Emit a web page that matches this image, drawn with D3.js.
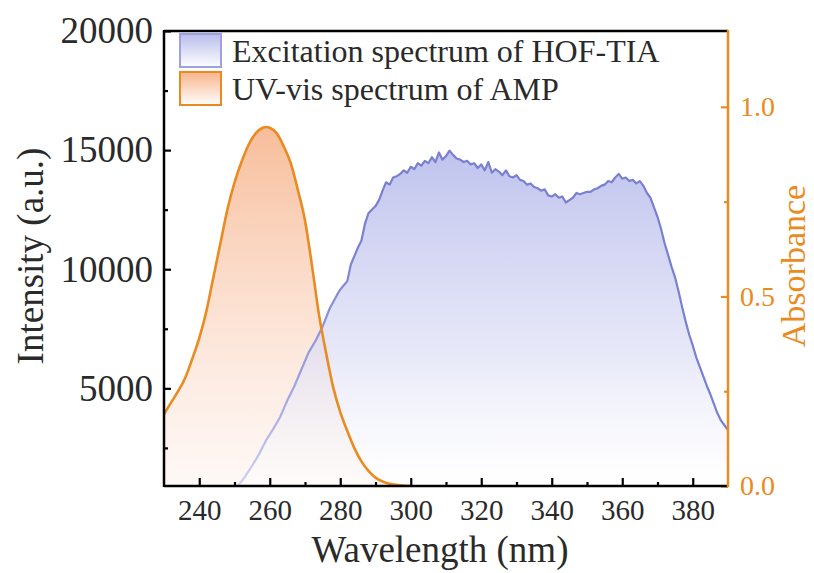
<!DOCTYPE html>
<html>
<head>
<meta charset="utf-8">
<script src="https://cdn.jsdelivr.net/npm/d3@7"></script>
<style>
 body { margin:0; background:#fff; }
 svg { display:block; }
 svg text { font-family:"Liberation Serif", "Times New Roman", Times, Tinos, "Nimbus Roman", "DejaVu Serif", serif; }
</style>
</head>
<body>
<svg id="chart" width="814" height="573"></svg>
<script>
// excitation spectrum of HOF-TIA  [wavelength nm, intensity a.u.]
var excitation = [
 [251,900],[253,1300],[255,1750],[257,2250],[259,2830],[261,3300],[263,3810],[265,4500],
 [267,5100],[269,5800],[271,6500],[273,7000],[275,7600],[277,8350],[279,8900],[280,9150],
 [282,9500],[283,10200],[285,10900],[286,11200],[287,11900],[288,12350],[290,12650],[291,12900],
 [292,13300],[293,13650],[294,13550],[295,13850],[296,13900],[297,14000],[298,14150],[299,14050],
 [300,14300],[301,14200],[302,14450],[303,14350],[304,14550],[305,14450],[306,14700],[307,14500],
 [308,14900],[309,14600],[310,14750],[311,14980],[312,14800],[313,14650],[314,14600],[315,14500],
 [316,14550],[317,14400],[318,14450],[319,14250],[320,14400],[321,14150],[322,14500],[323,14050],
 [324,14200],[325,14100],[326,13950],[327,14150],[328,13900],[329,13850],[330,13950],[331,13750],
 [332,13700],[333,13550],[334,13600],[335,13450],[336,13400],[337,13300],[338,13350],[339,13100],
 [340,13050],[341,13150],[342,13000],[343,13050],[344,12800],[345,12900],[346,13000],[347,13200],
 [348,13150],[349,13200],[350,13250],[351,13250],[352,13350],[353,13400],[354,13500],[355,13550],
 [356,13700],[357,13650],[358,13850],[359,14000],[360,13800],[361,13850],[362,13700],[363,13750],
 [364,13600],[365,13700],[366,13500],[367,13200],[368,13000],[369,12600],[370,12200],[371,11700],
 [372,11100],[373,10600],[374,10100],[375,9650],[376,9050],[377,8400],[378,7800],[379,7250],
 [380,6800],[381,6300],[382,5900],[383,5500],[384,5100],[385,4750],[386,4350],[387,3950],
 [388,3650],[389,3450],[390,3250]
];

// UV-vis spectrum of AMP  [wavelength nm, absorbance]
var uvvis = [
 [230,0.19],[232,0.22],[234,0.25],[236,0.285],[238,0.335],[240,0.39],[242,0.46],[244,0.55],
 [246,0.64],[248,0.73],[250,0.80],[252,0.855],[254,0.90],[256,0.93],[258,0.945],[259,0.947],
 [260,0.945],[262,0.93],[264,0.895],[266,0.85],[268,0.78],[270,0.70],[272,0.58],[274,0.45],
 [276,0.35],[278,0.26],[280,0.195],[282,0.145],[284,0.10],[286,0.065],[288,0.04],[290,0.022],
 [292,0.012],[294,0.006],[296,0.003],[298,0.001],[300,0]
];

var xTicks = [240,260,280,300,320,340,360,380];
var xMinor = [250,270,290,310,330,350,370];
var yLeftTicks = [5000,10000,15000,20000];
var yLeftMinor = [2500,7500,12500,17500];
var yRightTicks = [0,0.5,1.0];
var yRightMinor = [0.25,0.75];
var legendNames = ["Excitation spectrum of HOF-TIA","UV-vis spectrum of AMP"];

var svg = d3.select("#chart");
var L = 164, R = 728, T = 31, B = 486;
var orange = "#e98b20";

var x = d3.scaleLinear().domain([230,390]).range([L,R]);
var yL = d3.scaleLinear().domain([900,20000]).range([B,T]);
var yR = d3.scaleLinear().domain([0,1.2]).range([B,T]);

// gradients
var defs = svg.append("defs");
function grad(id, x1, y1, x2, y2, stops) {
  var g = defs.append("linearGradient").attr("id", id)
    .attr("gradientUnits","userSpaceOnUse")
    .attr("x1",x1).attr("y1",y1).attr("x2",x2).attr("y2",y2);
  stops.forEach(function(s){
    g.append("stop").attr("offset",s[0]).attr("stop-color",s[1]).attr("stop-opacity",s[2]);
  });
}
grad("blueFill", 0, 150, 0, B, [[0,"#b4b8ea",0.85],[0.6,"#dcdef5",0.7],[1,"#ffffff",0.4]]);
grad("orangeFill", 0, 127, 0, B, [[0,"#f6b68f",0.9],[0.6,"#fbdccb",0.7],[1,"#fdf4f0",0.6]]);
grad("blueLine", 240, 0, 360, 0, [[0,"#cfd1f3",1],[0.5,"#9a9fe0",1],[1,"#7a80d0",1]]);
grad("blueBox", 0, 34, 0, 68, [[0,"#b9bdeb",1],[1,"#ffffff",1]]);
grad("orangeBox", 0, 72, 0, 106, [[0,"#f7b58c",1],[1,"#ffffff",1]]);

var clip = defs.append("clipPath").attr("id","plotclip");
clip.append("rect").attr("x",L).attr("y",T).attr("width",R-L).attr("height",B-T);

var plot = svg.append("g").attr("clip-path","url(#plotclip)");

var areaUv = d3.area().x(function(d){return x(d[0]);}).y0(B).y1(function(d){return yR(d[1]);}).curve(d3.curveMonotoneX);
var lineUv = d3.line().x(function(d){return x(d[0]);}).y(function(d){return yR(d[1]);}).curve(d3.curveMonotoneX);
var areaEx = d3.area().x(function(d){return x(d[0]);}).y0(B).y1(function(d){return yL(d[1]);});
var lineEx = d3.line().x(function(d){return x(d[0]);}).y(function(d){return yL(d[1]);});

plot.append("path").datum(uvvis).attr("d", areaUv).attr("fill","url(#orangeFill)");
plot.append("path").datum(excitation).attr("d", areaEx).attr("fill","url(#blueFill)");
plot.append("path").datum(excitation).attr("d", lineEx).attr("fill","none")
  .attr("stroke","url(#blueLine)").attr("stroke-width",2.2).attr("stroke-linejoin","round");
plot.append("path").datum(uvvis).attr("d", lineUv).attr("fill","none")
  .attr("stroke",orange).attr("stroke-width",2.6);

// axes
function styleAxis(g, col, fs) {
  g.attr("font-family", null);
  g.select(".domain").remove();
  g.selectAll("line").attr("stroke",col).attr("stroke-width",2.2);
  g.selectAll("text").attr("fill",col === "#000" ? "#2a2a2a" : col).style("font-size",fs);
}

var gl = svg.append("g").attr("transform","translate("+L+",0)")
  .call(d3.axisLeft(yL).tickValues(yLeftTicks).tickSize(-7).tickPadding(11).tickFormat(d3.format("d")));
styleAxis(gl, "#000", "37px");
var glm = svg.append("g").attr("transform","translate("+L+",0)")
  .call(d3.axisLeft(yL).tickValues(yLeftMinor).tickSize(-4).tickFormat(""));
styleAxis(glm, "#000", "10px");

var gb = svg.append("g").attr("transform","translate(0,"+B+")")
  .call(d3.axisBottom(x).tickValues(xTicks).tickSize(-8).tickPadding(13).tickFormat(d3.format("d")));
styleAxis(gb, "#000", "29px");
var gbm = svg.append("g").attr("transform","translate(0,"+B+")")
  .call(d3.axisBottom(x).tickValues(xMinor).tickSize(-4).tickFormat(""));
styleAxis(gbm, "#000", "10px");

var gr = svg.append("g").attr("transform","translate("+R+",0)")
  .call(d3.axisRight(yR).tickValues(yRightTicks).tickSize(-7).tickPadding(12).tickFormat(d3.format(".1f")));
styleAxis(gr, orange, "28px");
var grm = svg.append("g").attr("transform","translate("+R+",0)")
  .call(d3.axisRight(yR).tickValues(yRightMinor).tickSize(-4).tickFormat(""));
styleAxis(grm, orange, "10px");

// frame
svg.append("line").attr("x1",L).attr("x2",R).attr("y1",T).attr("y2",T).attr("stroke","#000").attr("stroke-width",2.5);
svg.append("line").attr("x1",L).attr("x2",R).attr("y1",B).attr("y2",B).attr("stroke","#000").attr("stroke-width",2.5);
svg.append("line").attr("x1",L).attr("x2",L).attr("y1",T-1).attr("y2",B+1).attr("stroke","#000").attr("stroke-width",2.5);
svg.append("line").attr("x1",R).attr("x2",R).attr("y1",T-1).attr("y2",B+1).attr("stroke",orange).attr("stroke-width",2.5);

// axis titles
svg.append("text").attr("transform","translate(43,256) rotate(-90)").attr("text-anchor","middle")
  .attr("fill","#2a2a2a").style("font-size","37px").text("Intensity (a.u.)");
svg.append("text").attr("transform","translate(805,266) rotate(-90)").attr("text-anchor","middle")
  .attr("fill",orange).style("font-size","34px").text("Absorbance");
svg.append("text").attr("x",440).attr("y",562).attr("text-anchor","middle")
  .attr("fill","#2a2a2a").style("font-size","37px").text("Wavelength (nm)");

// legend
var leg = svg.append("g");
var boxes = [["url(#blueBox)","#9da1e2",34],["url(#orangeBox)",orange,72]];
boxes.forEach(function(b, i){
  leg.append("rect").attr("x",180).attr("y",b[2]).attr("width",41).attr("height",33)
    .attr("fill",b[0]).attr("stroke",b[1]).attr("stroke-width",2);
  leg.append("text").attr("x",232).attr("y",b[2]+28).attr("fill","#2a2a2a")
    .style("font-size","32px").text(legendNames[i]);
});
</script>
</body>
</html>
